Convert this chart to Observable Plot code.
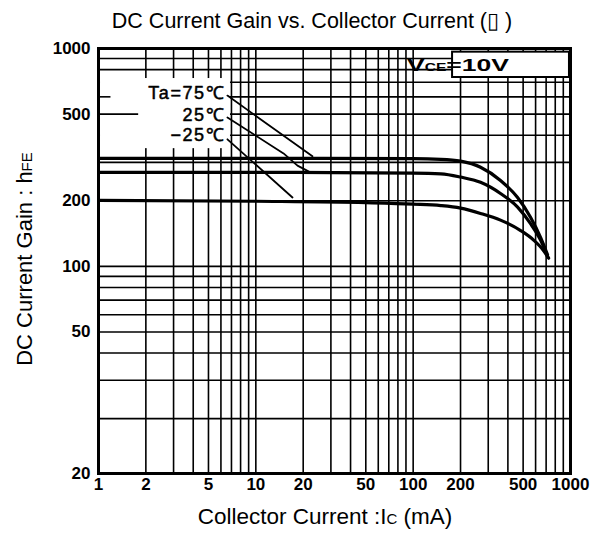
<!DOCTYPE html>
<html>
<head>
<meta charset="utf-8">
<script src="https://cdn.jsdelivr.net/npm/d3@7"></script>
<script src="https://cdn.jsdelivr.net/npm/@observablehq/plot@0.6"></script>
<style>
  html, body { margin: 0; padding: 0; background: #fff; }
  #chart { width: 603px; height: 533px; }
</style>
</head>
<body>
<div id="chart"></div>
<script>
// ---- Data ----
const titleText = "DC Current Gain vs. Collector Current (\u25AF )";
const xLabelMain = "Collector Current :I";
const xLabelSub = "C";
const xLabelTail = " (mA)";
const yLabelMain = "DC Current Gain : h";
const yLabelSub = "FE";

// Collector current (mA) and hFE for each ambient temperature
const current75 = [1, 10, 100, 150, 200, 268, 359, 461, 557, 645, 715];
const gain75    = [313, 313, 312, 310, 304, 285, 248, 207, 168, 136, 113];
const current25 = [1, 10, 100, 150, 200, 268, 359, 461, 557, 645, 715];
const gain25    = [270, 270, 268, 266, 257, 243, 216, 187, 157, 132, 111];
const currentM25 = [1, 10, 50, 100, 150, 200, 268, 359, 482, 583, 675, 726];
const gainM25    = [201, 199, 196, 193, 190, 185, 175, 163, 146, 132, 118, 109];

const seriesNames = ["Ta=75\u2103", "25\u2103", "\u221225\u2103"];

// Axis ticks / grid
const xTicks = [1, 2, 5, 10, 20, 50, 100, 200, 500, 1000];
const yTicks = [20, 50, 100, 200, 500, 1000];
const xGrid = [2, 3, 4, 5, 6, 7, 8, 9, 10, 20, 30, 40, 50, 60, 70, 80, 90, 100, 200, 300, 400, 500, 600, 700, 800, 900];
const yGrid = [20, 30, 40, 50, 60, 70, 80, 90, 100, 200, 300, 400, 500, 600, 700, 800, 900];
const xDomain = [1, 1000];
const yDomain = [11.2, 1000];   // bottom edge of the scanned grid (labelled "20" in the original)

// Annotation anchors (data units)
const labelX = 6.4;
const labelY = [622, 493, 399];
const leaderId = ["a", "a", "b", "b", "b", "b", "c", "c"];
const leaderX  = [6.6, 22.9, 6.6, 15.0, 18.4, 21.6, 6.6, 17.1];
const leaderY  = [608, 320, 482, 330, 290, 273, 383, 207];
const labelBox = {x1: 1.03, x2: 6.9, y1: 347, y2: 728};
const vceBox = {x1: 178, x2: 985, y1: 736, y2: 962};

// ---- Build tables ----
const curves = [
  ...current75.map((c, i) => ({s: "75", x: c, y: gain75[i]})),
  ...current25.map((c, i) => ({s: "25", x: c, y: gain25[i]})),
  ...currentM25.map((c, i) => ({s: "-25", x: c, y: gainM25[i]}))
];
const leaders = leaderX.map((x, i) => ({id: leaderId[i], x, y: leaderY[i]}));
const labels = seriesNames.map((t, i) => ({t, y: labelY[i]}));

const font = "'Liberation Sans', Arial, Helvetica, sans-serif";

const plot = Plot.plot({
  width: 603,
  height: 533,
  marginTop: 48,
  marginLeft: 98,
  marginRight: 33,
  marginBottom: 60,
  style: {fontFamily: font, background: "white", color: "black", overflow: "visible"},
  x: {type: "log", domain: xDomain, axis: null},
  y: {type: "log", domain: yDomain, axis: null},
  marks: [
    Plot.ruleX(xGrid, {x: d => d, stroke: "black", strokeWidth: 1.6}),
    Plot.ruleY(yGrid, {y: d => d, stroke: "black", strokeWidth: 1.6}),
    Plot.rect([labelBox], {x1: "x1", x2: "x2", y1: "y1", y2: "y2", fill: "white"}),
    Plot.ruleY([500], {y: d => d, x1: 1, x2: 1.8, stroke: "black", strokeWidth: 1.6}),
    Plot.ruleY([600], {y: d => d, x1: 1, x2: 1.2, stroke: "black", strokeWidth: 1.6}),
    Plot.rect([vceBox], {x1: "x1", x2: "x2", y1: "y1", y2: "y2", fill: "white", stroke: "black", strokeWidth: 2}),
    Plot.line(curves, {x: "x", y: "y", z: "s", stroke: "black", strokeWidth: 3.2, curve: "monotone-x"}),
    Plot.line(leaders, {x: "x", y: "y", z: "id", stroke: "black", strokeWidth: 1.8, curve: "linear"}),
    Plot.text(labels, {x: labelX, y: "y", text: "t", textAnchor: "end", fontSize: 18, fill: "black", stroke: "black", strokeWidth: 0.5}),
    Plot.text(xTicks, {x: d => d, frameAnchor: "bottom", dy: 16, text: d => String(d), fontSize: 17, fontWeight: "bold", fill: "black"}),
    Plot.text(yTicks, {y: d => d === 20 ? yDomain[0] : d, frameAnchor: "left", dx: -8, textAnchor: "end", text: d => String(d), fontSize: 17, fontWeight: "bold", fill: "black"}),
    Plot.frame({stroke: "black", strokeWidth: 3})
  ]
});

document.getElementById("chart").appendChild(plot);

// Titles and text with subscripts
const svg = d3.select(plot);

// widen the temperature labels like the scanned lettering
svg.selectAll("text").filter(function() { return seriesNames.includes(this.textContent); })
  .attr("letter-spacing", "1.6px");

svg.append("text")
  .attr("x", 312).attr("y", 28)
  .attr("text-anchor", "middle")
  .attr("font-family", font).attr("font-size", 21.5).attr("fill", "black")
  .text(titleText);

const xl = svg.append("text")
  .attr("x", 325).attr("y", 524)
  .attr("text-anchor", "middle")
  .attr("font-family", font).attr("font-size", 22.5).attr("fill", "black");
xl.append("tspan").text(xLabelMain);
xl.append("tspan").attr("font-size", 15).text(xLabelSub);
xl.append("tspan").text(xLabelTail);

const yl = svg.append("text")
  .attr("transform", "translate(32,259) rotate(-90)")
  .attr("text-anchor", "middle")
  .attr("font-family", font).attr("font-size", 22).attr("fill", "black");
yl.append("tspan").text(yLabelMain);
yl.append("tspan").attr("font-size", 15).text(yLabelSub);

const vt = svg.append("text")
  .attr("x", 458).attr("y", 71)
  .attr("textLength", 102).attr("lengthAdjust", "spacingAndGlyphs")
  .attr("font-family", font).attr("font-weight", "bold").attr("font-size", 17).attr("fill", "black");
vt.append("tspan").text("V");
vt.append("tspan").attr("font-size", 10).text("CE");
vt.append("tspan").text("=10V");
</script>
</body>
</html>
